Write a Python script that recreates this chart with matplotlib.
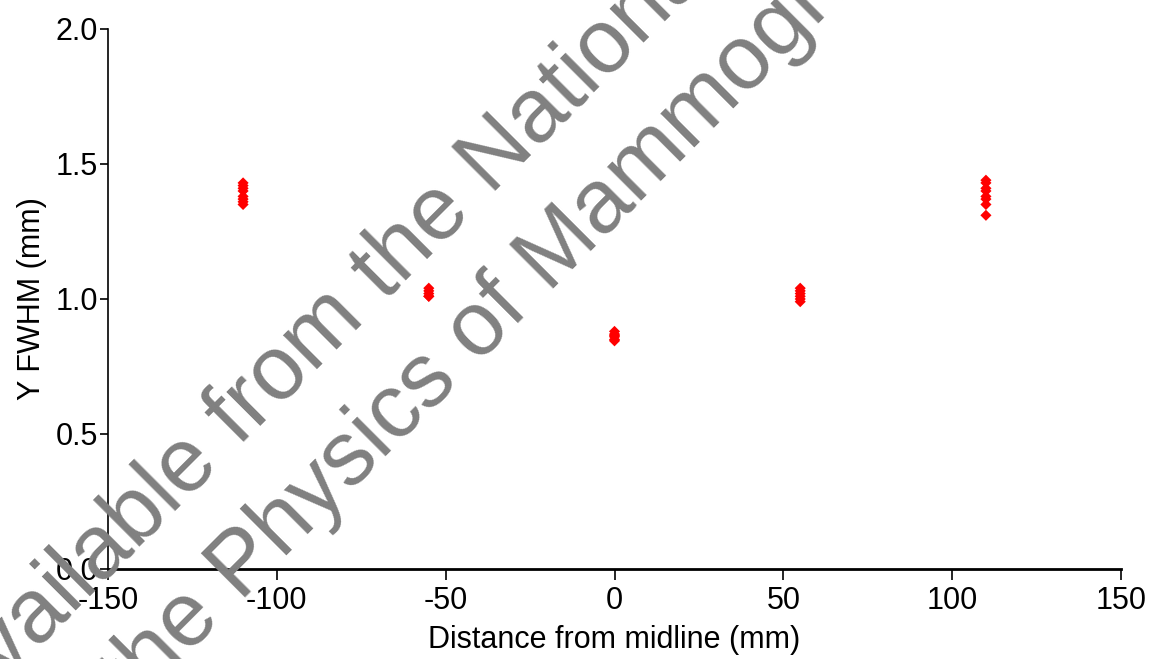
import matplotlib
matplotlib.use("Agg")
import matplotlib.pyplot as plt

plt.rcParams['font.family'] = ['Liberation Sans', 'DejaVu Sans']
plt.rcParams['axes.unicode_minus'] = False

# distance from midline (mm) and the measured FWHM values at each spot
positions = [-110, -55, 0, 55, 110]
fwhmValues = [
  [1.43, 1.42, 1.41, 1.40, 1.38, 1.37, 1.36, 1.35],
  [1.04, 1.03, 1.02, 1.01, 1.01],
  [0.88, 0.87, 0.865, 0.86, 0.85, 0.845],
  [1.04, 1.03, 1.02, 1.01, 1.00, 0.99],
  [1.44, 1.43, 1.41, 1.40, 1.38, 1.37, 1.35, 1.31],
]
xTicks = [-150, -100, -50, 0, 50, 100, 150]
yTicks = [0.0, 0.5, 1.0, 1.5, 2.0]
watermark = ["Available from the National Academies", "the Physics of Mammography"]

fig = plt.figure(figsize=(11.54, 6.59), dpi=100)
ax = fig.add_axes([0.0936, 0.1366, 0.8778, 0.8194])

for pos, vals in zip(positions, fwhmValues):
  ax.scatter([pos] * len(vals), vals, marker='D', s=32, color='red',
             edgecolors='none', zorder=3, clip_on=False)

ax.set_xlim(-150, 150)
ax.set_ylim(0, 2.0)
ax.set_xticks(xTicks)
ax.set_yticks(yTicks)
ax.set_yticklabels([f"{t:.1f}" for t in yTicks])

for side in ['top', 'right']:
  ax.spines[side].set_visible(False)
ax.spines['left'].set_linewidth(1.2)
ax.spines['bottom'].set_linewidth(2)
ax.tick_params(axis='x', direction='out', length=8, width=1.2, labelsize=22, pad=4)
ax.tick_params(axis='y', direction='out', length=6, width=1.2, labelsize=22, pad=1)

ax.set_xlabel("Distance from midline (mm)", fontsize=22, labelpad=7)
ax.set_ylabel("Y FWHM (mm)", fontsize=22, labelpad=6)

# gray watermark across the plot
fig.text(-0.0317, -0.098, watermark[0], fontsize=65, color='#808080',
         rotation=45, rotation_mode='anchor', ha='left', va='baseline', zorder=10)
fig.text(0.1157, -0.0751, watermark[1], fontsize=65, color='#808080',
         rotation=45, rotation_mode='anchor', ha='left', va='baseline', zorder=10)

fig.savefig("out.png", dpi=100)
